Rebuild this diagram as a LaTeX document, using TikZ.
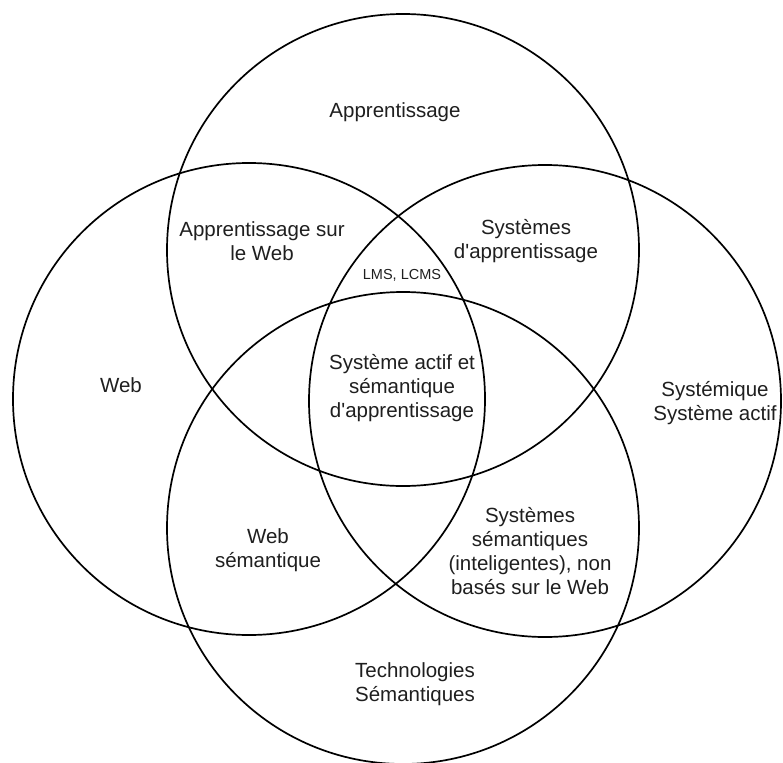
\documentclass[tikz,border=0pt]{standalone}
\usepackage{fontspec}
\setmainfont{Liberation Sans}
\begin{document}
\begin{tikzpicture}[x=1pt,y=-1pt,
  ring/.style={circle,draw=black,line width=1.7pt,minimum size=472pt,inner sep=0pt},
  lbl/.style={align=center,inner sep=0pt,text=black!88,font=\fontsize{20.5}{24}\selectfont},
  small/.style={align=center,inner sep=0pt,text=black!88,font=\fontsize{14.5}{17}\selectfont}]
\useasboundingbox[fill=white] (0,0) rectangle (783,762);
\node[ring] (cTop) at (403,250) {};
\node[ring] (cLeft) at (249,399) {};
\node[ring] (cRight) at (545,401) {};
\node[ring] (cBottom) at (403,528) {};
\node[lbl] (tA) at (395,112) {Apprentissage};
\node[lbl] (tAW) at (262,241) {Apprentissage sur\\le Web};
\node[lbl] (tSA) at (526,241) {Systèmes\\d\textquotesingle apprentissage};
\node[small] (tLMS) at (402,275) {LMS, LCMS};
\node[lbl] (tC) at (402,388) {Système actif et\\sémantique\\d\textquotesingle apprentissage};
\node[lbl] (tW) at (121,385) {Web};
\node[lbl] (tS) at (715,403) {Systémique\\Système actif};
\node[lbl] (tWS) at (268,550) {Web\\sémantique};
\node[lbl] (tSS) at (530,551) {Systèmes\\sémantiques\\(inteligentes), non\\basés sur le Web};
\node[lbl] (tTS) at (415,684) {Technologies\\Sémantiques};
\end{tikzpicture}
\end{document}
